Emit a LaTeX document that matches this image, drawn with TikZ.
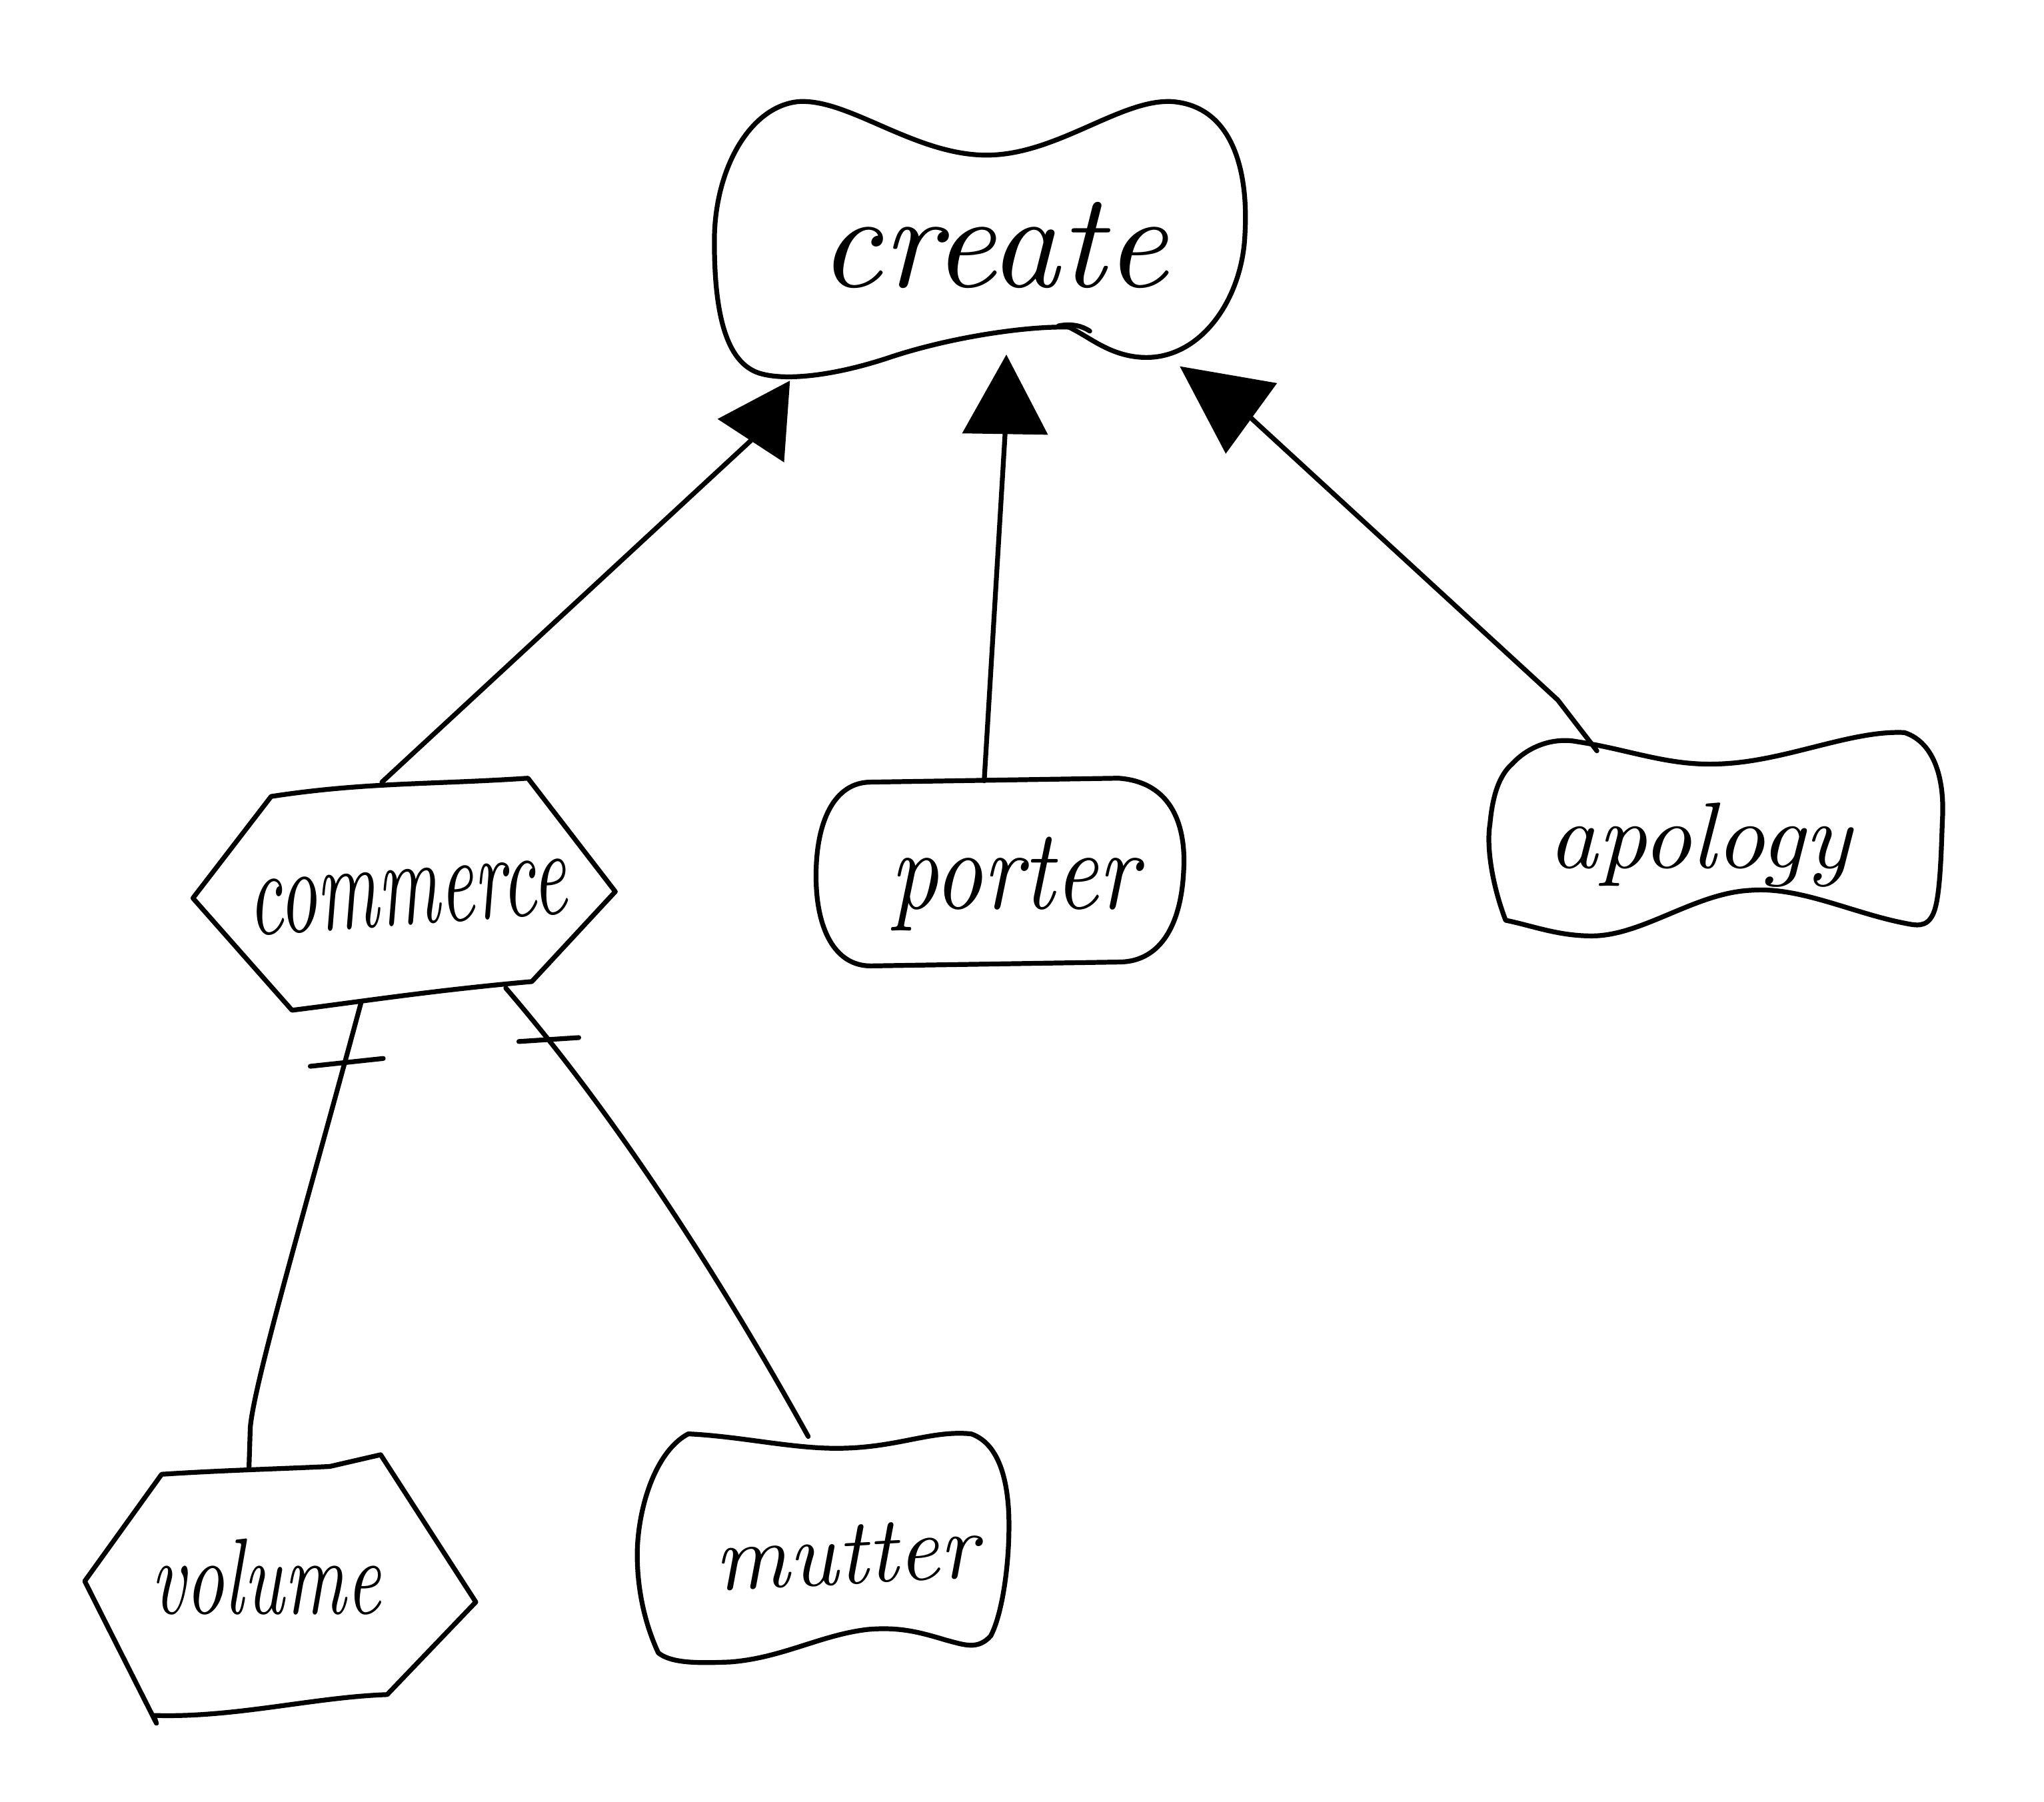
\documentclass[tikz,border=0pt]{standalone}
\usetikzlibrary{arrows.meta}
\newcommand{\hw}[3]{\resizebox{#1}{#2}{\itshape #3}}
\begin{document}
\begin{tikzpicture}[x=0.02cm,y=-0.02cm,
  outline/.style={draw=black, line width=2.1pt, line join=round, line cap=round},
  conn/.style={draw=black, line width=2.1pt, line cap=round},
  word/.style={anchor=base, inner sep=0pt}]
\useasboundingbox (0,0) rectangle (1568,1382);

% ---------- text nodes ----------
\node[word] (create) at (762,220) {\hw{5.36cm}{1.3cm}{create}};
\node[word, rotate=4] (commerce) at (314,709) {\hw{4.9cm}{0.84cm}{commerce}};
\node[word] (porter) at (778,697) {\hw{3.8cm}{1.1cm}{porter}};
\node[word] (apology) at (1304,666) {\hw{4.64cm}{1.0cm}{apology}};
\node[word] (volume) at (204,1238) {\hw{3.52cm}{1.15cm}{volume}};
\node[word, rotate=3] (mutter) at (650,1215) {\hw{4.04cm}{0.9cm}{mutter}};

% ---------- shapes ----------
% create (wavy blob)
\draw[outline] (612,78) .. controls (650,75) and (700,118) .. (755,119)
  .. controls (810,120) and (860,75) .. (900,78)
  .. controls (945,82) and (958,130) .. (955,180)
  .. controls (953,230) and (920,278) .. (874,274)
  .. controls (850,272) and (835,258) .. (820,251)
  .. controls (790,250) and (730,258) .. (680,275)
  .. controls (640,288) and (605,292) .. (585,287)
  .. controls (555,280) and (548,235) .. (548,185)
  .. controls (548,130) and (575,82) .. (612,78) -- cycle;
\draw[outline] (812,250) .. controls (822,248) and (830,250) .. (836,254);

% commerce (hexagon)
\draw[outline] (148,689) -- (208,611) .. controls (280,600) and (330,602) .. (405,597)
  -- (472,684) -- (408,753) .. controls (330,760) and (280,768) .. (224,775) -- cycle;

% porter (rounded box)
\draw[outline] (668,600) -- (858,597)
  .. controls (900,600) and (910,635) .. (908,668)
  .. controls (906,710) and (890,737) .. (860,738)
  -- (668,741)
  .. controls (640,741) and (626,712) .. (626,672)
  .. controls (626,630) and (640,600) .. (668,600) -- cycle;

% apology (wavy blob)
\draw[outline] (1160,586) .. controls (1175,570) and (1195,566) .. (1210,569)
  .. controls (1250,575) and (1280,588) .. (1320,586)
  .. controls (1370,584) and (1420,560) .. (1461,562)
  .. controls (1485,570) and (1492,600) .. (1490,630)
  .. controls (1489,660) and (1488,690) .. (1483,701)
  .. controls (1478,712) and (1470,710) .. (1460,708)
  .. controls (1420,700) and (1380,680) .. (1343,683)
  .. controls (1300,685) and (1260,718) .. (1221,718)
  .. controls (1195,718) and (1175,710) .. (1155,706)
  .. controls (1145,680) and (1140,650) .. (1143,632)
  .. controls (1145,610) and (1150,595) .. (1160,586) -- cycle;

% volume (hexagon)
\draw[outline] (65,1213) -- (124,1131) .. controls (170,1128) and (210,1127) .. (253,1125)
  -- (292,1116) -- (365,1229)
  -- (297,1300) .. controls (240,1302) and (180,1318) .. (118,1316)
  -- (120,1322) -- cycle;

% mutter (wavy box)
\draw[outline] (528,1100) .. controls (570,1102) and (610,1112) .. (647,1111)
  .. controls (690,1110) and (715,1097) .. (745,1100)
  .. controls (768,1108) and (774,1140) .. (774,1170)
  .. controls (774,1205) and (768,1240) .. (760,1255)
  .. controls (750,1266) and (740,1262) .. (725,1258)
  .. controls (705,1252) and (690,1248) .. (666,1250)
  .. controls (630,1254) and (600,1272) .. (560,1275)
  .. controls (535,1276) and (515,1276) .. (505,1268)
  .. controls (492,1240) and (488,1210) .. (489,1186)
  .. controls (491,1150) and (505,1112) .. (528,1100) -- cycle;

% ---------- connector end points ----------
\coordinate (commerce-n) at (293,600);
\coordinate (commerce-s1) at (277,769);
\coordinate (commerce-s2) at (388,758);
\coordinate (porter-n) at (755,599);
\coordinate (apology-n) at (1225,576);
\coordinate (apology-k) at (1195,537);
\coordinate (volume-n) at (191,1126);
\coordinate (mutter-n) at (620,1102);
\coordinate (baseL) at (576,338);
\coordinate (tipL) at (606,292);
\coordinate (baseM) at (771,333);
\coordinate (tipM) at (772,272);
\coordinate (baseR) at (960,321);
\coordinate (tipR) at (905,281);

% ---------- connectors ----------
\draw[conn, -{Triangle[length=1.1cm,width=1.2cm]}] (commerce-n) -- (baseL) -- (tipL);
\draw[conn, -{Triangle[length=1.22cm,width=1.3cm]}] (porter-n) -- (baseM) -- (tipM);
\draw[conn, -{Triangle[length=1.36cm,width=1.32cm]}] (apology-n) -- (apology-k) -- (baseR) -- (tipR);
\draw[conn] (commerce-s1) .. controls (235,925) and (195,1060) .. (192,1095) -- (volume-n);
\draw[conn] (commerce-s2) .. controls (450,830) and (530,940) .. (mutter-n);

% tick marks
\draw[conn] (238,818) -- (294,812);
\draw[conn] (398,799) -- (444,796);
\end{tikzpicture}
\end{document}
